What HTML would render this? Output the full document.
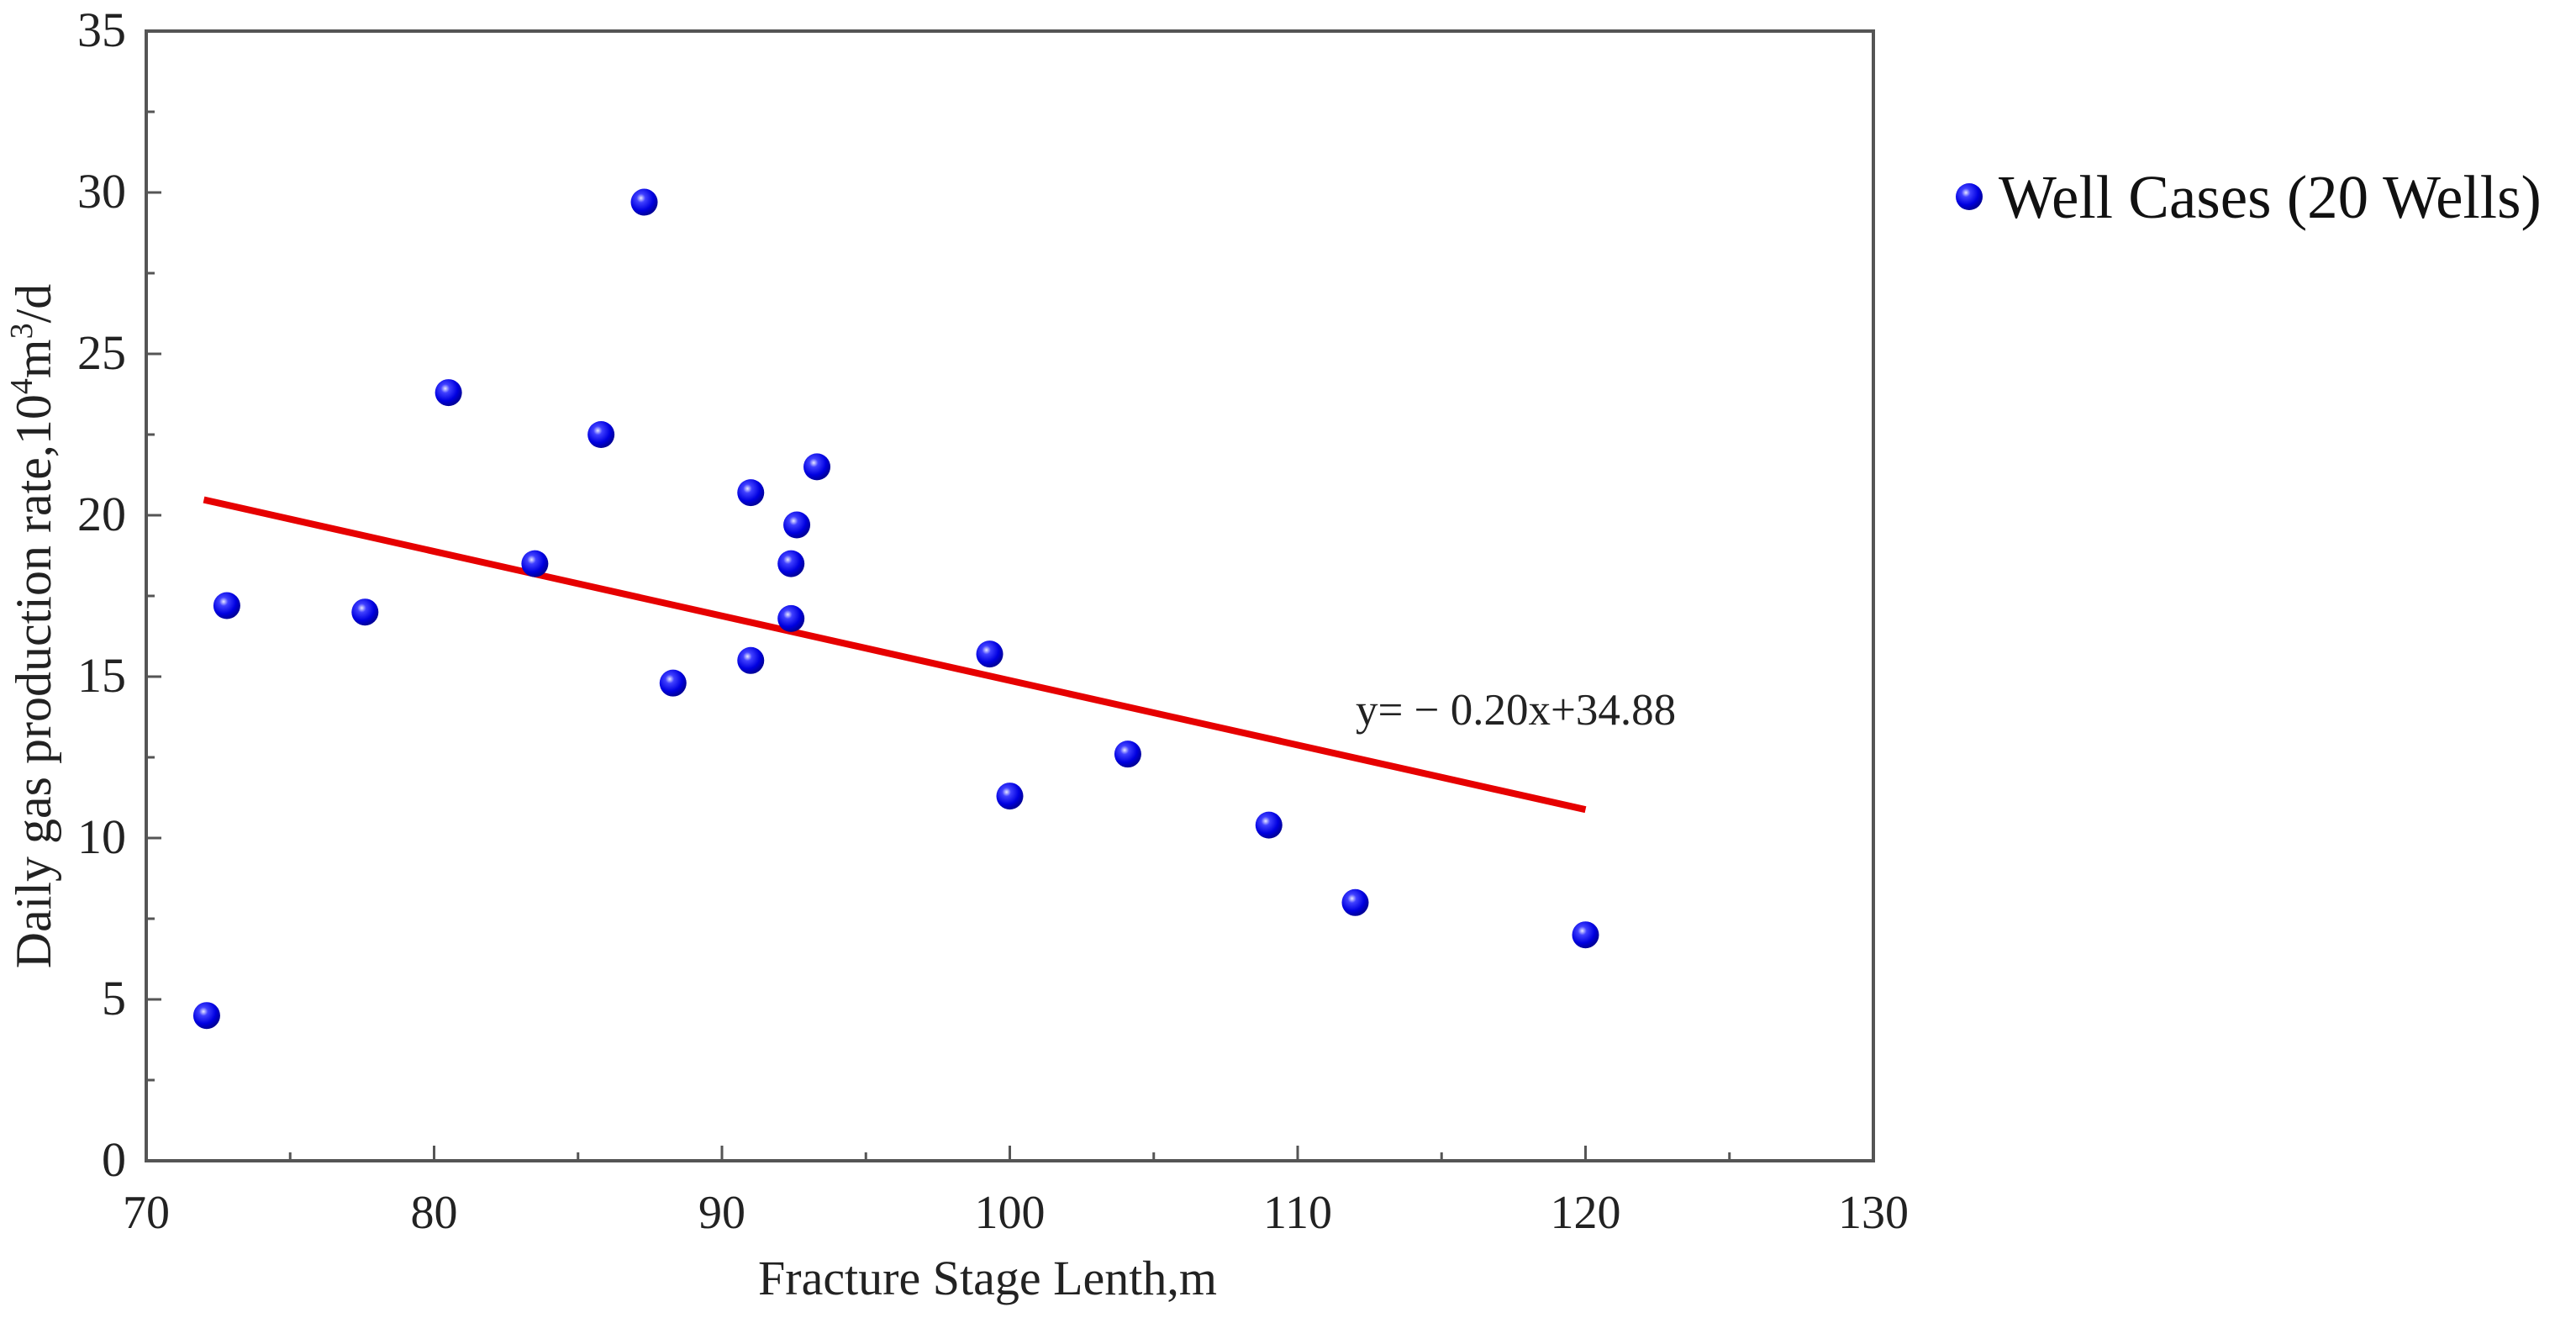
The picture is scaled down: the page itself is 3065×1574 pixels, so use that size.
<!DOCTYPE html>
<html><head><meta charset="utf-8"><style>
html,body{margin:0;padding:0;background:#fff;}
svg{display:block;font-family:"Liberation Serif",serif;}
</style></head><body>
<svg id="chart" width="3065" height="1574" viewBox="0 0 3065 1574">
<defs>
<radialGradient id="ball" cx="0.38" cy="0.35" r="0.65">
<stop offset="0" stop-color="#e8e8ff"/><stop offset="0.25" stop-color="#4040ff"/><stop offset="0.7" stop-color="#0000e0"/><stop offset="1" stop-color="#00009a"/>
</radialGradient>
</defs>
<g id="ticks"></g>
<g id="marks"></g>
<rect x="174" y="37" width="2055" height="1344" fill="none" stroke="#555" stroke-width="4"/>
<text x="1613" y="862" font-size="53" fill="#222">y= − 0.20x+34.88</text>
<text x="1175" y="1540" font-size="58" text-anchor="middle" fill="#222">Fracture Stage Lenth,m</text>
<text transform="translate(60,745) rotate(-90)" font-size="60" text-anchor="middle" fill="#222">Daily gas production rate,10<tspan font-size="38" dy="-22">4</tspan><tspan dy="22">m</tspan><tspan font-size="38" dy="-22">3</tspan><tspan dy="22">/d</tspan></text>
<g>
<circle cx="2343" cy="234" r="16" fill="url(#ball)"/>
<text x="2378" y="259" font-size="73" fill="#111">Well Cases (20 Wells)</text>
</g>
</svg>
<script>
const xVals=[72.1,72.8,77.6,80.5,83.5,85.8,87.3,88.3,91.0,91.0,92.4,92.4,92.6,93.3,99.3,100.0,104.1,109.0,112.0,120.0];
const yVals=[4.5,17.2,17.0,23.8,18.5,22.5,29.7,14.8,15.5,20.7,16.8,18.5,19.7,21.5,15.7,11.3,12.6,10.4,8.0,7.0];
const xTicks=[70,80,90,100,110,120,130];
const yTicks=[0,5,10,15,20,25,30,35];
const fitSlope=-0.20;
const fitIntercept=34.88;
const fitRange=[72,120];
const NS='http://www.w3.org/2000/svg';
const X0=174,X1=2229,Y0=1381,Y1=37;
function sx(v){return X0+(v-70)/(130-70)*(X1-X0);}
function sy(v){return Y0-(v-0)/(35-0)*(Y0-Y1);}
function mk(t,a){const e=document.createElementNS(NS,t);for(const k in a)e.setAttribute(k,a[k]);return e;}
const tg=document.getElementById('ticks');
xTicks.forEach((t,i)=>{
 const x=sx(t);
 const l=mk('line',{x1:x,x2:x,y1:Y0,y2:Y0-18,stroke:'#555','stroke-width':3});
 
 
 tg.appendChild(l);
 if(i<xTicks.length-1){const m=sx(t+5);const ml=mk('line',{x1:m,x2:m,y1:Y0,y2:Y0-10,stroke:'#555','stroke-width':3});
 
 
 tg.appendChild(ml);}
 const tx=mk('text',{x:x,y:Y0+80,'font-size':56,'text-anchor':'middle',fill:'#222'});
 tx.textContent=t;
 
 
 tg.appendChild(tx);
});
yTicks.forEach((t,i)=>{
 const y=sy(t);
 const l=mk('line',{x1:X0,x2:X0+18,y1:y,y2:y,stroke:'#555','stroke-width':3});
 
 
 tg.appendChild(l);
 if(i<yTicks.length-1){const m=sy(t+2.5);const ml=mk('line',{x1:X0,x2:X0+10,y1:m,y2:m,stroke:'#555','stroke-width':3});
 
 
 tg.appendChild(ml);}
 const tx=mk('text',{x:X0-24,y:y+18,'font-size':58,'text-anchor':'end',fill:'#222'});
 tx.textContent=t;
 
 
 tg.appendChild(tx);
});
const g=document.getElementById('marks');
const fl=mk('line',{x1:sx(fitRange[0]),y1:sy(fitSlope*fitRange[0]+fitIntercept),x2:sx(fitRange[1]),y2:sy(fitSlope*fitRange[1]+fitIntercept),stroke:'#e60000','stroke-width':8});


g.appendChild(fl);
xVals.forEach((xv,i)=>{
 const c=mk('circle',{cx:sx(xv),cy:sy(yVals[i]),r:16,fill:'url(#ball)'});
 
 
 g.appendChild(c);
});
</script>
</body></html>
